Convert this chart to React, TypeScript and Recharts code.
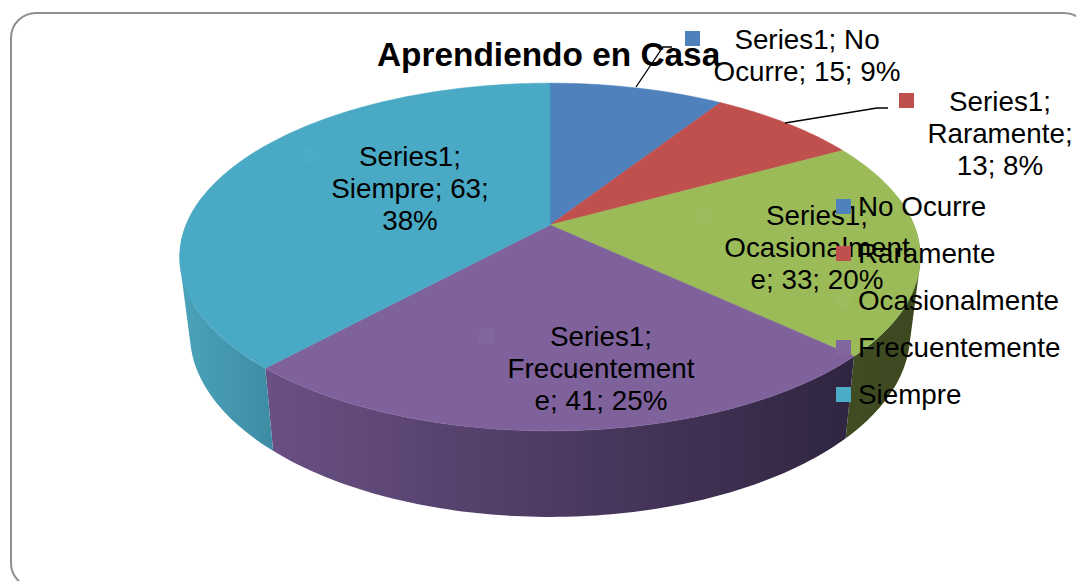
import React from 'react';
import { PieChart, Pie, Legend } from 'recharts';

document.body.style.margin = '0';
document.body.style.overflow = 'hidden';

const CATEGORIES = ['No Ocurre', 'Raramente', 'Ocasionalmente', 'Frecuentemente', 'Siempre'];
const VALUES = [15, 13, 33, 41, 63];
const COLORS = ['#4f81bd', '#c0504d', '#9bbb59', '#7f619c', '#4aa9c4'];
const KEY_COLORS = ['#4f81bd', '#c0504d', '#9dbc5c', '#8266a0', '#4cabc6'];
const LABEL_LINES = [
  ['Series1; No', 'Ocurre; 15; 9%'],
  ['Series1;', 'Raramente;', '13; 8%'],
  ['Series1;', 'Ocasionalment', 'e; 33; 20%'],
  ['Series1;', 'Frecuentement', 'e; 41; 25%'],
  ['Series1;', 'Siempre; 63;', '38%'],
];

const FONT = '"Liberation Sans", Arial, sans-serif';
const FONT_SIZE = 27.8;

// where each data label sits: text centre, first baseline, legend key, leader line
const LABEL_POS = [
  { x: 807, y: 49, keyX: 685, keyY: 31, line: '636,87 663,47 672,47' },
  { x: 1000, y: 111, keyX: 899, keyY: 93, line: '785,123 877,108 888,108' },
  { x: 817, y: 225, keyX: 695, keyY: 207 },
  { x: 601, y: 346, keyX: 479, keyY: 329 },
  { x: 410, y: 166, keyX: 303, keyY: 148 },
];

const data = CATEGORIES.map((name, i) => ({ name, value: VALUES[i], fill: COLORS[i] }));

// perspective of the tilted disc
const PERSPECTIVE = 0.184;
const TOP_Y = 168 / 364;
const BOTTOM_X = 354 / 364;
const BOTTOM_Y = 177 / 364;
const DEPTH = 75;

const project = (theta: number, cx: number, cy: number, r: number, bottom: boolean) => {
  const rad = (theta * Math.PI) / 180;
  const u = Math.sin(rad);
  const v = -Math.cos(rad);
  const d = 1 - PERSPECTIVE * v;
  const sx = bottom ? BOTTOM_X : 1;
  const sy = bottom ? BOTTOM_Y : TOP_Y;
  return [cx + (r * sx * u) / d, cy + (bottom ? DEPTH : 0) + (r * sy * v) / d];
};

const arc = (from: number, to: number, cx: number, cy: number, r: number, bottom: boolean) => {
  const pts = [];
  const steps = Math.max(2, Math.ceil(Math.abs(to - from)));
  for (let i = 0; i <= steps; i++) {
    pts.push(project(from + ((to - from) * i) / steps, cx, cy, r, bottom));
  }
  return pts;
};

const toPath = (pts: number[][]) =>
  'M' + pts.map((p) => `${p[0].toFixed(2)},${p[1].toFixed(2)}`).join('L') + 'Z';

// wall as a strip of quads, all wound the same way so the fill stays solid at the silhouette
const wallPath = (top: number[][], bottom: number[][]) => {
  let d = '';
  for (let i = 0; i < top.length - 1; i++) {
    const quad = [top[i], top[i + 1], bottom[i + 1], bottom[i]];
    let area = 0;
    quad.forEach((p, n) => {
      const q = quad[(n + 1) % 4];
      area += p[0] * q[1] - q[0] * p[1];
    });
    d += toPath(area < 0 ? quad.reverse() : quad);
  }
  return d;
};

const WALLS: Record<number, string[]> = {
  2: ['#404c22', '#3c4820'],
  3: ['#6a5084', '#2f2540'],
  4: ['#4ba3ba', '#3d8ca4'],
};

const DiscSlice = (props: any) => {
  const { cx, cy, outerRadius, startAngle, endAngle, fill, index } = props;
  const from = 90 - startAngle;
  const to = 90 - endAngle;
  const top = [[cx, cy], ...arc(from, to, cx, cy, outerRadius, false)];
  // only the front of the disc shows a wall
  const wallFrom = Math.max(from, 80);
  const wallTo = Math.min(to, 280);
  const colors = WALLS[index];
  const hasWall = colors && wallTo > wallFrom;
  const rimTop = hasWall ? arc(wallFrom, wallTo, cx, cy, outerRadius, false) : [];
  const rimBottom = hasWall ? arc(wallFrom, wallTo, cx, cy, outerRadius, true) : [];
  const xs = [...rimTop, ...rimBottom].map((p) => p[0]);
  const gradId = `wall-${index}`;
  return (
    <g>
      {hasWall && (
        <>
          <defs>
            <linearGradient id={gradId} gradientUnits="userSpaceOnUse" x1={Math.min(...xs)} x2={Math.max(...xs)} y1={0} y2={0}>
              <stop offset="0%" stopColor={colors[0]} />
              <stop offset="100%" stopColor={colors[1]} />
            </linearGradient>
          </defs>
          <path d={wallPath(rimTop, rimBottom)} fill={`url(#${gradId})`} />
        </>
      )}
      <path d={toPath(top)} fill={fill} stroke={fill} strokeWidth={0.5} />
    </g>
  );
};

const renderLabel = (props: any) => {
  const i = props.index;
  const pos = LABEL_POS[i];
  return (
    <g key={`label-${i}`}>
      {pos.line && <polyline points={pos.line} fill="none" stroke="#000" strokeWidth={1.3} />}
      <rect x={pos.keyX} y={pos.keyY} width={15} height={15} fill={KEY_COLORS[i]} />
      <text x={pos.x} y={pos.y} textAnchor="middle" fontFamily={FONT} fontSize={FONT_SIZE} fill="#000" stroke="none">
        {LABEL_LINES[i].map((t, n) => (
          <tspan key={n} x={pos.x} y={pos.y + n * 32}>
            {t}
          </tspan>
        ))}
      </text>
    </g>
  );
};

const renderLegend = () => (
  <div style={{ position: 'relative', width: 240 }}>
    {CATEGORIES.map((name, i) => (
      <div key={name} style={{ height: 47, lineHeight: '47px', position: 'relative', fontFamily: FONT, fontSize: FONT_SIZE, color: '#000', whiteSpace: 'nowrap' }}>
        <span style={{ position: 'absolute', left: 0, top: 16, width: 15, height: 15, background: KEY_COLORS[i] }} />
        <span style={{ position: 'absolute', left: 22, top: 0 }}>{name}</span>
      </div>
    ))}
  </div>
);

export default function App() {
  return (
    <div style={{ position: 'relative', width: 1076, height: 581, overflow: 'hidden', background: '#fff' }}>
      <div
        style={{
          position: 'absolute', left: 10, top: 12, width: 1080, height: 577,
          border: '2px solid #8f8f8f', borderRadius: 26, boxSizing: 'border-box',
        }}
      />
      <div
        style={{
          position: 'absolute', left: 377, top: 36, fontFamily: FONT, fontSize: 33.4,
          fontWeight: 'bold', color: '#000', whiteSpace: 'nowrap', lineHeight: '38px',
        }}
      >
        Aprendiendo en Casa
      </div>
      <div style={{ position: 'absolute', left: 0, top: 0 }}>
        <PieChart width={1076} height={581} margin={{ top: 0, right: 0, bottom: 0, left: 0 }}>
          <Pie
            data={data}
            dataKey="value"
            nameKey="name"
            cx={550}
            cy={225}
            innerRadius={0}
            outerRadius={364}
            startAngle={90}
            endAngle={-270}
            stroke="none"
            shape={DiscSlice}
            label={renderLabel}
            labelLine={false}
            isAnimationActive={false}
          />
          <Legend content={renderLegend} wrapperStyle={{ position: 'absolute', left: 836, top: 183, width: 240, bottom: 'auto', right: 'auto' }} />
        </PieChart>
      </div>
    </div>
  );
}
